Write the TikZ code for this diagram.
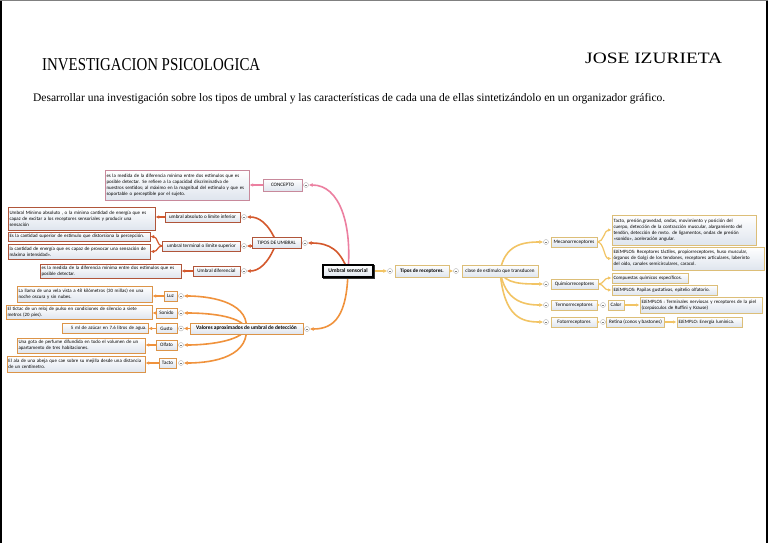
\documentclass[tikz,border=0pt]{standalone}
\usepackage{fontspec}
\setmainfont{Liberation Serif}
\newfontfamily\cfont{Carlito}
\usetikzlibrary{arrows.meta}
\pgfdeclarelayer{bg}
\pgfsetlayers{bg,main}
\newcommand\LL[1]{\mbox{#1}}
\definecolor{cpink}{HTML}{EC7FA0}
\definecolor{cpinkb}{HTML}{C8899B}
\definecolor{cred}{HTML}{D4582C}
\definecolor{credb}{HTML}{B0553A}
\definecolor{corange}{HTML}{F0923C}
\definecolor{coranb}{HTML}{DC9448}
\definecolor{cgold}{HTML}{F2C464}
\definecolor{cgoldb}{HTML}{DCBE78}
\definecolor{nfill}{HTML}{DFE5EE}
\tikzset{
 lb/.style={draw=#1, line width=0.8pt, top color=white, bottom color=nfill, inner sep=0pt,
   font=\cfont\fontsize{5.1}{5.6}\selectfont, minimum height=10pt},
 bx/.style={draw=#1, line width=1pt, top color=white, bottom color=nfill, inner sep=1.5pt,
   align=left, font=\cfont\fontsize{4.9}{6.0}\selectfont},
 tg/.style={circle, draw=gray!60, fill=white, line width=0.4pt, inner sep=0pt, minimum size=5pt,
   path picture={\draw[gray, line width=0.5pt] ([xshift=-1.4pt]path picture bounding box.center) -- ([xshift=1.4pt]path picture bounding box.center);}},
 br/.style={draw=#1, line width=1.6pt, -{Latex[length=4pt,width=4pt]}},
 ar/.style={draw=#1, line width=1.2pt, -{Latex[length=3.5pt,width=3.5pt]}},
}
\begin{document}
\begin{tikzpicture}[x=1pt,y=-1pt]
\useasboundingbox (0,0) rectangle (768,543);
\begin{pgfonlayer}{bg}
\fill[white] (0,0) rectangle (768,543);
\end{pgfonlayer}
\draw[line width=2pt] (1,0) -- (1,543);
\draw[line width=2pt] (767,0) -- (767,543);
\draw[line width=0.4pt, gray] (0,0.2) -- (768,0.2);

% titles
\node[anchor=south west, inner sep=0pt] (t1) at (42,70.5) {\resizebox{218pt}{12pt}{INVESTIGACION PSICOLOGICA}};
\node[anchor=south west, inner sep=0pt] (t2) at (585,63.5) {\resizebox{137pt}{10.5pt}{JOSE IZURIETA}};
\node[anchor=south west, inner sep=0pt] (t3) at (33,104.5) {\resizebox{632pt}{!}{\fontsize{12}{12}\selectfont Desarrollar una investigación sobre los tipos de umbral y las características de cada una de ellas sintetizándolo en un organizador gráfico.}};

% centre
\node[lb=black, line width=1.1pt, minimum width=50pt, minimum height=12pt, font=\cfont\bfseries\fontsize{5.6}{6}\selectfont] (us) at (348,271) {Umbral sensorial};
\draw[black!80, line width=1pt] ([xshift=1pt,yshift=-1.2pt]us.south west) -- ([xshift=1.2pt,yshift=-1.2pt]us.south east) -- ([xshift=1.2pt,yshift=-1pt]us.north east);

% CONCEPTO branch
\node[lb=cpinkb, minimum width=39pt, minimum height=12pt] (con) at (282.5,185) {CONCEPTO};
\node[tg] (cCon) at (306,185) {};
\node[bx=cpinkb, text width=141pt, minimum height=30pt] (bA) at (177,185) {\LL{es la medida de la diferencia mínima entre dos estímulos que es}\\\LL{posible detectar. Se refiere a la capacidad discriminativa de}\\\LL{nuestros sentidos; al máximo en la magnitud del estímulo y que es}\\\LL{soportable o perceptible por el sujeto.}};

% TIPOS branch
\node[lb=credb, minimum width=49pt, minimum height=11pt] (tip) at (276.5,242.5) {TIPOS DE UMBRAL};
\node[tg] (cTip) at (305,243) {};
\node[lb=credb, minimum width=75pt] (abs) at (202.5,217) {umbral absoluto o límite inferior};
\node[tg] (cAbs) at (244,217) {};
\node[lb=credb, minimum width=78pt] (ter) at (201.5,246) {umbral terminal o límite superior};
\node[tg] (cTer) at (244,246) {};
\node[lb=credb, minimum width=47pt] (dif) at (216.5,271) {Umbral diferencial};
\node[tg] (cDif) at (244,271) {};
\node[bx=credb, text width=144pt, minimum height=23pt] (bB) at (81.5,218.5) {\LL{Umbral Mínimo absoluto , o la mínima cantidad de energía que es}\\\LL{capaz de excitar a los receptores sensoriales y producir una}\\\LL{sensación}};
\node[bx=credb, text width=139pt, minimum height=9pt] (bC) at (79,236.5) {\LL{Es la cantidad superior de estímulo que distorsiona la percepción.}};
\node[bx=credb, text width=139pt, minimum height=15pt] (bD) at (79,251.5) {\LL{la cantidad de energía que es capaz de provocar una sensación de}\\\LL{máxima intensidad».}};
\node[bx=credb, text width=138pt, minimum height=14pt] (bE) at (110.5,271) {\LL{es la medida de la diferencia mínima entre dos estímulos que es}\\\LL{posible detectar.}};

% Valores branch
\node[lb=coranb, minimum width=113pt, minimum height=11pt, font=\cfont\bfseries\fontsize{5.4}{6}\selectfont] (val) at (246.5,328.5) {Valores aproximados de umbral de detección};
\node[tg] (cVal) at (307,329) {};
\node[lb=coranb, minimum width=13pt] (luz) at (170.5,296) {Luz};
\node[tg] (cLuz) at (181,296) {};
\node[lb=coranb, minimum width=21pt] (son) at (166.5,313) {Sonido};
\node[tg] (cSon) at (181,313) {};
\node[lb=coranb, minimum width=21pt] (gus) at (166.5,328.5) {Gusto};
\node[tg] (cGus) at (181,328.5) {};
\node[lb=coranb, minimum width=21pt] (olf) at (166.5,345) {Olfato};
\node[tg] (cOlf) at (181,345) {};
\node[lb=coranb, minimum width=17pt] (tac) at (167.5,363) {Tacto};
\node[tg] (cTac) at (181,363) {};
\node[bx=coranb, text width=132pt, minimum height=16pt] (bLuz) at (84.5,294) {\LL{La llama de una vela vista a 48 kilómetros (30 millas) en una}\\\LL{noche oscura y sin nubes.}};
\node[bx=coranb, text width=143pt, minimum height=13pt] (bSon) at (79,312.5) {\LL{El tictac de un reloj de pulso en condiciones de silencio a siete}\\\LL{metros (20 pies).}};
\node[bx=coranb, text width=83pt, minimum height=10pt, align=right] (bGus) at (105,328.5) {\LL{5 ml de azúcar en 7.6 litros de agua.}};
\node[bx=coranb, text width=125pt, minimum height=15pt] (bOlf) at (81,345.5) {\LL{Una gota de perfume difundida en todo el volumen de un}\\\LL{apartamento de tres habitaciones.}};
\node[bx=coranb, text width=135pt, minimum height=16pt] (bTac) at (76,364) {\LL{El ala de una abeja que cae sobre su mejilla desde una distancia}\\\LL{de un centímetro.}};

% right side
\node[tg] (cR0) at (390,271) {};
\node[lb=cgoldb, minimum width=54pt, minimum height=12pt, font=\cfont\bfseries\fontsize{5.2}{6}\selectfont] (trec) at (422,271) {Tipos de receptores.};
\node[tg] (cR1) at (456,271) {};
\node[lb=cgoldb, minimum width=76pt, minimum height=12pt] (cla) at (500,271) {clase de estímulo que transducen};
\node[lb=cgoldb, minimum width=46pt] (mec) at (574,242) {Mecanorreceptores};
\node[tg] (cMec) at (546,242) {};
\node[lb=cgoldb, minimum width=47pt] (qui) at (574.5,284) {Quimiorreceptores};
\node[tg] (cQui) at (546,284) {};
\node[lb=cgoldb, minimum width=46pt] (tmo) at (574,305) {Termorreceptores};
\node[tg] (cTmo) at (546,305) {};
\node[tg] (cTmo2) at (603,305) {};
\node[lb=cgoldb, minimum width=16pt] (cal) at (616,305) {Calor};
\node[lb=cgoldb, minimum width=46pt] (fot) at (574,322) {Fotorreceptores};
\node[tg] (cFot) at (546,322) {};
\node[tg] (cFot2) at (603,322) {};
\node[lb=cgoldb, minimum width=58pt] (ret) at (635.5,322) {Retina (conos y bastones)};
\node[bx=cgoldb, text width=141pt, minimum height=30pt] (bM1) at (684,230) {\LL{Tacto, presión,gravedad, ondas, movimiento y posición del}\\\LL{cuerpo, detección de la contracción muscular, alargamiento del}\\\LL{tendón, detección de mvto. de ligamentos, ondas de presión}\\\LL{«sonido», aceleración angular.}};
\node[bx=cgoldb, text width=149pt, minimum height=23pt] (bM2) at (688,258.5) {\LL{EJEMPLOS: Receptores táctiles, propiorreceptores, huso muscular,}\\\LL{órganos de Golgi de los tendones, receptores articulares, laberinto}\\\LL{del oído, canales semicirculares, caracol.}};
\node[bx=cgoldb, text width=73pt, minimum height=10pt] (bQ1) at (650,278) {\LL{Compuestas químicos específicos.}};
\node[bx=cgoldb, text width=102pt, minimum height=10pt] (bQ2) at (664.5,290) {\LL{EJEMPLOS: Papilas gustativas, epitelio olfatorio.}};
\node[bx=cgoldb, text width=119pt, minimum height=16pt] (bT) at (701,305) {\LL{EJEMPLOS : Terminales nerviosas y receptores de la piel}\\\LL{(corpúsculos de Ruffini y Krause)}};
\node[bx=cgoldb, text width=62pt, minimum height=10pt] (bF) at (709.5,322) {\LL{EJEMPLO: Energía lumínica.}};

% connectors
\begin{pgfonlayer}{bg}
\draw[br=cpink] (us.center) .. controls (352,225) and (340,185) .. (cCon);
\draw[br=cred] (us.center) .. controls (340,250) and (330,243) .. (cTip);
\draw[br=corange] (us.center) .. controls (347,315) and (335,329) .. (cVal);
\draw[br=cred] (tip.center) .. controls (268,222) and (258,217) .. (cAbs);
\draw[br=cred] (tip.center) .. controls (262,246) and (255,246) .. (cTer);
\draw[br=cred] (tip.center) .. controls (268,265) and (258,271) .. (cDif);
\draw[br=corange] (val.center) .. controls (248,300) and (205,296) .. (cLuz);
\draw[br=corange] (val.center) .. controls (240,315) and (205,313) .. (cSon);
\draw[br=corange] (val.center) -- (cGus);
\draw[br=corange] (val.center) .. controls (240,342) and (205,345) .. (cOlf);
\draw[br=corange] (val.center) .. controls (248,360) and (205,363) .. (cTac);
\draw[br=cgold] (us.east) -- (cR0);
\draw[br=cgold] (trec.east) -- (cR1);
\draw[br=cgold] (cla.center) .. controls (505,245) and (522,242) .. (cMec);
\draw[br=cgold] (cla.center) .. controls (505,284) and (522,284) .. (cQui);
\draw[br=cgold] (cla.center) .. controls (505,300) and (522,305) .. (cTmo);
\draw[br=cgold] (cla.center) .. controls (504,318) and (522,322) .. (cFot);
\end{pgfonlayer}
\draw[ar=cpink] (con.west) -- (bA.east);
\draw[ar=cred] (abs.west) -- (abs.west -| bB.east);
\draw[ar=cred] (ter.west) .. controls (157,246) and (158,237) .. (bC.east);
\draw[ar=cred] (ter.west) .. controls (157,246) and (158,251.5) .. (bD.east);
\draw[ar=cred] (dif.west) -- (dif.west -| bE.east);
\draw[ar=corange] (luz.west) -- (luz.west -| bLuz.east);
\draw[ar=corange] (son.west) -- (son.west -| bSon.east);
\draw[ar=corange] (gus.west) -- (gus.west -| bGus.east);
\draw[ar=corange] (olf.west) -- (olf.west -| bOlf.east);
\draw[ar=corange] (tac.west) -- (tac.west -| bTac.east);
\draw[ar=cgold] (mec.east) .. controls (604,242) and (604,230) .. (bM1.west);
\draw[ar=cgold] (mec.east) .. controls (604,242) and (604,258.5) .. (bM2.west);
\draw[ar=cgold] (qui.east) .. controls (604,284) and (604,278) .. (bQ1.west);
\draw[ar=cgold] (qui.east) .. controls (604,284) and (604,290) .. (bQ2.west);
\draw[ar=cgold] (tmo.east) -- (cTmo2);
\draw[ar=cgold] (cal.east) -- (cal.east -| bT.west);
\draw[ar=cgold] (fot.east) -- (cFot2);
\draw[ar=cgold] (ret.east) -- (ret.east -| bF.west);
\end{tikzpicture}
\end{document}
